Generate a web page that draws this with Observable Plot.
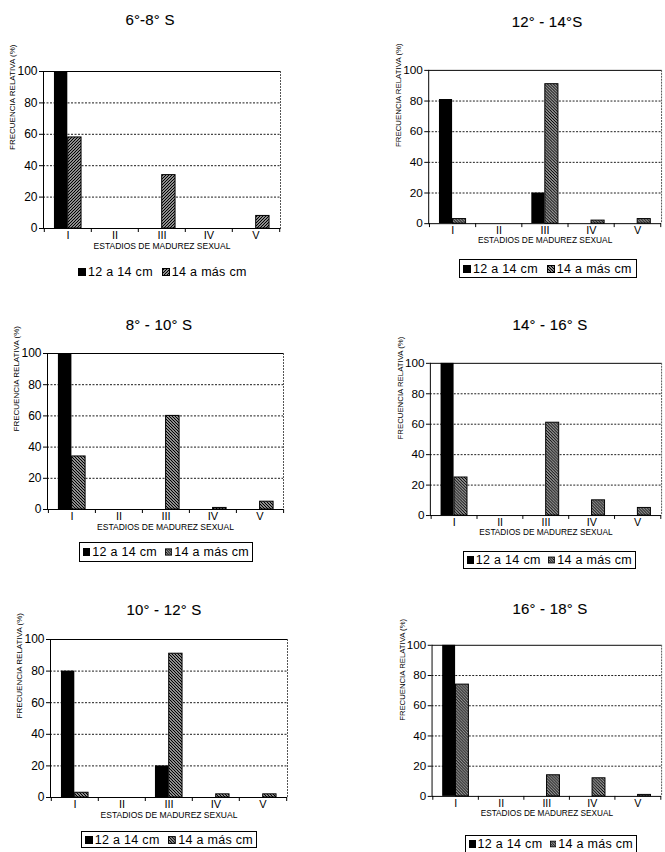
<!DOCTYPE html>
<html><head><meta charset="utf-8">
<script src="https://cdn.jsdelivr.net/npm/d3@7"></script>
<script src="https://cdn.jsdelivr.net/npm/@observablehq/plot@0.6"></script>
<style>
body{margin:0;background:#fff;}
#root{position:relative;width:665px;height:852px;overflow:hidden;background:#fff;font-family:"Liberation Sans",Arial,sans-serif;color:#000;}
.title{position:absolute;font-size:15px;transform:translate(-50%,-50%);white-space:nowrap;letter-spacing:0.2px;-webkit-text-stroke:0.12px #000;}
.panel{position:absolute;}
.legend{position:absolute;display:flex;align-items:center;font-size:12.5px;white-space:nowrap;box-sizing:border-box;padding:0 3px;letter-spacing:0.3px;}
.legend.box{border:1px solid #000;}
.sw{display:inline-block;width:8px;height:8px;margin-right:2px;}
.gap{display:inline-block;width:9px;}
</style>
</head><body>
<svg width="0" height="0" style="position:absolute">
 <defs>
  <pattern id="hatchF" patternUnits="userSpaceOnUse" width="3" height="3">
   <rect width="3" height="3" fill="white"/>
   <path d="M-1,1 l2,-2 M0,3 l3,-3 M2,4 l2,-2" stroke="black" stroke-width="1.3"/>
  </pattern>
  <pattern id="hatchB" patternUnits="userSpaceOnUse" width="3" height="3">
   <rect width="3" height="3" fill="white"/>
   <path d="M-1,2 l2,2 M0,0 l3,3 M2,-1 l2,2" stroke="black" stroke-width="1.3"/>
  </pattern>
 </defs>
</svg>
<div id="root"></div>
<script>
// ---- data ----
const stages = ["I", "II", "III", "IV", "V"];
const seriesNames = ["12 a 14 cm", "14 a más cm"];
const panelTitles = ["6°-8° S", "12° - 14°S", "8° - 10° S", "14° - 16° S", "10° - 12° S", "16° - 18° S"];
const yTicks = [0, 20, 40, 60, 80, 100];
const gridTicks = [20, 40, 60, 80];
const xAxisTitle = "ESTADIOS DE MADUREZ SEXUAL";
const yAxisTitle = "FRECUENCIA RELATIVA (%)";

const small_6_8   = [100, 0, 0, 0, 0];
const large_6_8   = [58, 0, 34, 0, 8];
const small_12_14 = [81, 0, 20, 0, 0];
const large_12_14 = [3, 0, 91, 2, 3];
const small_8_10  = [100, 0, 0, 0, 0];
const large_8_10  = [34, 0, 60, 1, 5];
const small_14_16 = [100, 0, 0, 0, 0];
const large_14_16 = [25, 0, 61, 10, 5];
const small_10_12 = [80, 0, 20, 0, 0];
const large_10_12 = [3, 0, 91, 2, 2];
const small_16_18 = [100, 0, 0, 0, 0];
const large_16_18 = [74, 0, 14, 12, 1];

const smallSeries = [small_6_8, small_12_14, small_8_10, small_14_16, small_10_12, small_16_18];
const largeSeries = [large_6_8, large_12_14, large_8_10, large_14_16, large_10_12, large_16_18];

// ---- layout (page pixels) ----
const layout = [
  {L:43,  T:71,  R:280, B:228, tx:150, ty:19,  leg:[75,264,250,280],  box:false, hatch:"hatchF"},
  {L:429, T:70,  R:666, B:226, tx:547, ty:21,  leg:[459,259,637,278], box:true,  hatch:"hatchB"},
  {L:47,  T:353, R:283, B:509, tx:159, ty:324, leg:[79,542,253,562],  box:true,  hatch:"hatchB"},
  {L:431, T:363, R:668, B:519, tx:550, ty:324, leg:[463,551,636,569], box:true,  hatch:"hatchB"},
  {L:50,  T:639, R:287, B:797, tx:164, ty:609, leg:[81,831,257,848],  box:true,  hatch:"hatchB"},
  {L:433, T:645, R:670, B:801, tx:550, ty:608, leg:[465,835,637,853], box:true,  hatch:"hatchB"}
];

const root = document.getElementById("root");
const font = '"Liberation Sans", Arial, sans-serif';

layout.forEach((lay, i) => {
  const mL = 46, mR = 4, mT = 6, mB = 30;
  const w = lay.R - lay.L, h = lay.B - lay.T;
  const bw = w / stages.length;
  const rows1 = stages.map((s, k) => ({stage: s, value: smallSeries[i][k]})).filter(d => d.value > 0);
  const rows2 = stages.map((s, k) => ({stage: s, value: largeSeries[i][k]})).filter(d => d.value > 0);
  const hatchUrl = `url(#${lay.hatch})`;

  const svg = Plot.plot({
    width: w + mL + mR, height: h + mT + mB,
    marginLeft: mL, marginRight: mR, marginTop: mT, marginBottom: mB,
    style: {fontFamily: font, background: "transparent", overflow: "visible", color: "black"},
    x: {type: "band", domain: stages, padding: 0},
    y: {domain: [0, 100]},
    marks: [
      Plot.gridY(gridTicks, {stroke: "black", strokeOpacity: 1, strokeDasharray: "2,1.5", strokeWidth: 0.9}),
      Plot.frame({anchor: "right", stroke: "#555", strokeDasharray: "1,2"}),
      Plot.barY(rows1, {x: "stage", y: "value", fill: "black", insetLeft: bw * 0.21, insetRight: bw * 0.5}),
      Plot.barY(rows2, {x: "stage", y: "value", fill: hatchUrl, stroke: "black", strokeWidth: 1,
                        insetLeft: bw * 0.5, insetRight: bw * 0.21, ariaLabel: "hatched"}),
      Plot.ruleY([0, 100], {stroke: "black"}),
      Plot.frame({anchor: "left", stroke: "black"}),
      Plot.ruleX(stages, {x: d => d, dx: -bw / 2, y1: 0, y2: 0, insetBottom: -4, stroke: "black"}),
      Plot.ruleX(stages.slice(-1), {x: d => d, dx: bw / 2, y1: 0, y2: 0, insetBottom: -4, stroke: "black"}),
      Plot.axisY({ticks: yTicks, tickSize: 4, tickPadding: 2, fontSize: 12, label: null}),
      Plot.axisX({tickSize: 0, tickPadding: 3, fontSize: 11, label: null}),
      Plot.text([yAxisTitle], {frameAnchor: "left", rotate: -90, dx: -31, fontSize: 8, fill: "black"}),
      Plot.text([xAxisTitle], {frameAnchor: "bottom", dy: 20, fontSize: 8.5, fill: "black"})
    ]
  });
  svg.querySelectorAll('g[aria-label="hatched"] rect').forEach(r => r.setAttribute("fill", hatchUrl));

  const panel = document.createElement("div");
  panel.className = "panel";
  panel.style.left = (lay.L - mL) + "px";
  panel.style.top = (lay.T - mT) + "px";
  panel.appendChild(svg);
  root.appendChild(panel);

  const t = document.createElement("div");
  t.className = "title";
  t.style.left = lay.tx + "px";
  t.style.top = lay.ty + "px";
  t.textContent = panelTitles[i];
  root.appendChild(t);

  const leg = document.createElement("div");
  leg.className = "legend" + (lay.box ? " box" : "");
  leg.style.left = lay.leg[0] + "px";
  leg.style.top = lay.leg[1] + "px";
  leg.style.width = (lay.leg[2] - lay.leg[0]) + "px";
  leg.style.height = (lay.leg[3] - lay.leg[1]) + "px";
  leg.innerHTML =
    `<span class="sw" style="background:#000"></span><span>${seriesNames[0]}</span>` +
    `<span class="gap"></span>` +
    `<svg class="sw" width="8" height="8" viewBox="0 0 8 8"><rect x="0.5" y="0.5" width="7" height="7" fill="${hatchUrl}" stroke="black"/></svg>` +
    `<span>${seriesNames[1]}</span>`;
  root.appendChild(leg);
});
</script>
</body></html>
